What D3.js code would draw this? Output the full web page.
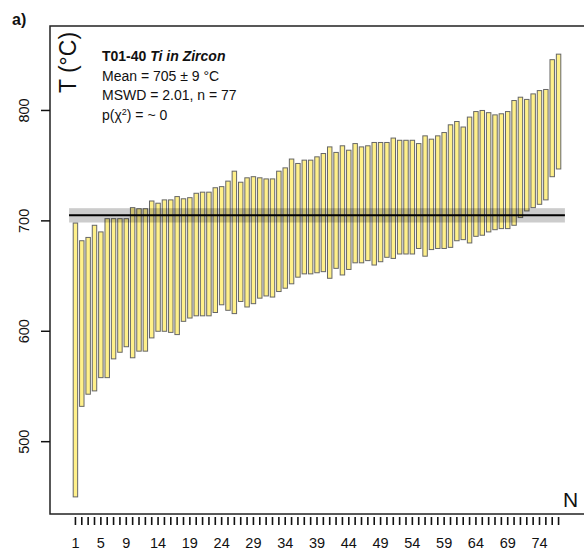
<!DOCTYPE html>
<meta charset="utf-8">
<script src="https://cdnjs.cloudflare.com/ajax/libs/d3/7.8.5/d3.min.js"></script>
<style>
 body { margin: 0; background: #fff; }
 text { font-family: "Liberation Sans", Arial, sans-serif; fill: #111; }
</style>
<div id="container"></div>
<script>
 // bar tops / bottoms in degC, sorted by analysis
 var tops = [698, 682, 685, 696, 690, 702, 702, 702, 702, 712,
             711, 711, 718, 716, 719, 719, 722, 720, 721, 725,
             726, 726, 730, 731, 736, 745, 735, 739, 740, 739,
             738, 738, 745, 748, 756, 752, 755, 755, 758, 761,
             767, 762, 768, 764, 770, 767, 768, 771, 771, 771,
             775, 773, 773, 773, 770, 777, 774, 777, 780, 787,
             790, 785, 794, 799, 800, 798, 796, 797, 799, 809,
             812, 810, 815, 818, 819, 846, 851];
 var bottoms = [450, 532, 543, 546, 558, 558, 575, 581, 586, 576,
                582, 582, 594, 600, 600, 599, 597, 609, 612, 614,
                614, 614, 617, 624, 619, 616, 627, 622, 625, 630,
                632, 631, 636, 639, 643, 649, 652, 652, 653, 654,
                648, 657, 651, 656, 662, 662, 664, 660, 663, 667,
                666, 670, 670, 670, 675, 668, 674, 675, 675, 676,
                682, 683, 680, 686, 687, 690, 692, 693, 693, 696,
                703, 709, 712, 715, 719, 740, 747];
 var meanT = 705;
 var bandHalf = 6.5;
 var yTicks = [500, 600, 700, 800];
 var xLabels = [1, 5, 9, 14, 19, 24, 29, 34, 39, 44, 49, 54, 59, 64, 69, 74];
 var infoLines = ["Mean = 705 \u00b1 9 \u00b0C", "MSWD = 2.01, n = 77"];

 var width = 584, height = 557;
 var box = {left: 50, top: 26, right: 586, bottom: 514};
 var n = tops.length;
 var idx = d3.range(1, n + 1);

 var svg = d3.select("#container").append("svg")
             .attr("width", width)
             .attr("height", height);

 var x = d3.scaleLinear().domain([-3, 81]).range([box.left, 584]);
 var y = d3.scaleLinear().domain([434.5, 876.5]).range([box.bottom, box.top]);
 var barW = (x(2) - x(1)) * 0.7;

 // bars
 svg.append("g").selectAll("rect")
    .data(idx)
    .enter().append("rect")
    .attr("x", d => x(d) - barW / 2)
    .attr("y", d => y(tops[d - 1]))
    .attr("width", barW)
    .attr("height", d => y(bottoms[d - 1]) - y(tops[d - 1]))
    .attr("fill", "#fff08a")
    .attr("stroke", "#666")
    .attr("stroke-width", 1);

 // weighted mean band + line
 svg.append("rect")
    .attr("x", x(0))
    .attr("y", y(meanT + bandHalf))
    .attr("width", x(n + 1) - x(0))
    .attr("height", y(meanT - bandHalf) - y(meanT + bandHalf))
    .attr("fill", "#000")
    .attr("fill-opacity", 0.2);
 svg.append("line")
    .attr("x1", x(0)).attr("x2", x(n + 1))
    .attr("y1", y(meanT)).attr("y2", y(meanT))
    .attr("stroke", "#000")
    .attr("stroke-width", 2);

 // frame
 svg.append("rect")
    .attr("x", box.left).attr("y", box.top)
    .attr("width", box.right - box.left)
    .attr("height", box.bottom - box.top)
    .attr("fill", "none")
    .attr("stroke", "#222")
    .attr("stroke-width", 1.5);

 // x ticks sit a little below the frame
 var xt = svg.append("g");
 xt.selectAll("line")
   .data(idx)
   .enter().append("line")
   .attr("x1", d => x(d)).attr("x2", d => x(d))
   .attr("y1", box.bottom + 3).attr("y2", box.bottom + 11)
   .attr("stroke", "#111")
   .attr("stroke-width", 1.6);
 xt.selectAll("text")
   .data(xLabels)
   .enter().append("text")
   .attr("x", d => x(d))
   .attr("y", 548)
   .attr("text-anchor", "middle")
   .style("font-size", "14.5px")
   .text(d => d);

 // y ticks, labels turned like R's las=0
 var yt = svg.append("g");
 yt.selectAll("line")
   .data(yTicks)
   .enter().append("line")
   .attr("x1", box.left - 9).attr("x2", box.left)
   .attr("y1", d => y(d)).attr("y2", d => y(d))
   .attr("stroke", "#111")
   .attr("stroke-width", 1.5);
 yt.selectAll("text")
   .data(yTicks)
   .enter().append("text")
   .attr("transform", d => `translate(29,${y(d)}) rotate(-90)`)
   .attr("text-anchor", "middle")
   .style("font-size", "14.5px")
   .text(d => d);

 // axis titles
 svg.append("text")
    .attr("transform", "translate(76,62.5) rotate(-90)")
    .attr("text-anchor", "middle")
    .style("font-size", "23px")
    .text("T (\u00b0C)");
 svg.append("text")
    .attr("x", 563).attr("y", 507)
    .style("font-size", "21px")
    .text("N");

 svg.append("text")
    .attr("x", 12).attr("y", 25)
    .style("font-size", "16px")
    .style("font-weight", "700")
    .text("a)");

 // info block
 var info = svg.append("g").style("font-size", "14px");
 var t1 = info.append("text").attr("x", 102).attr("y", 61.3).style("font-weight", "700");
 t1.append("tspan").text("T01-40 ");
 t1.append("tspan").style("font-style", "italic").text("Ti in Zircon");
 info.selectAll("text.line")
     .data(infoLines)
     .enter().append("text")
     .attr("class", "line")
     .attr("x", 102)
     .attr("y", (d, i) => 80.8 + i * 19.5)
     .text(d => d);
 var t4 = info.append("text").attr("x", 102).attr("y", 119.8);
 t4.append("tspan").text("p(\u03c7");
 t4.append("tspan").attr("dy", -5).style("font-size", "9px").text("2");
 t4.append("tspan").attr("dy", 5).text(") = ~ 0");
</script>
